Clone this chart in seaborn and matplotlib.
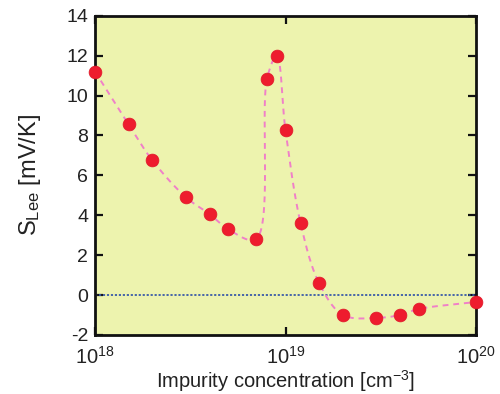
import numpy as np
import pandas as pd
import matplotlib
matplotlib.use("Agg")
import matplotlib.pyplot as plt
import seaborn as sns

# Data
concentration = [1e18, 1.5e18, 2e18, 3e18, 4e18, 5e18, 7e18, 8e18, 9e18, 1e19,
                 1.2e19, 1.5e19, 2e19, 3e19, 4e19, 5e19, 1e20]
s_lee = [11.2, 8.55, 6.75, 4.9, 4.05, 3.3, 2.8, 10.85, 12.0, 8.25,
         3.6, 0.6, -1.0, -1.15, -1.0, -0.7, -0.35]
x_ticks = [1e18, 1e19, 1e20]
x_tick_labels = [r'$\mathregular{10^{18}}$', r'$\mathregular{10^{19}}$', r'$\mathregular{10^{20}}$']
y_ticks = [-2, 0, 2, 4, 6, 8, 10, 12, 14]

sns.set_theme(style="ticks")
plt.rcParams['font.family'] = ['Liberation Sans', 'DejaVu Sans']
plt.rcParams['mathtext.fontset'] = 'custom'
plt.rcParams['mathtext.rm'] = 'Liberation Sans'
plt.rcParams['mathtext.it'] = 'Liberation Sans'

df = pd.DataFrame({"x": concentration, "y": s_lee})


def centripetal_cr(xs, ys, n=40, alpha=0.5):
    """Centripetal Catmull-Rom smoothing (rendering only) in screen-like units."""
    P = np.column_stack([np.asarray(xs, float) * 190.0, np.asarray(ys, float) * 20.0])
    P = np.vstack([2*P[0]-P[1], P, 2*P[-1]-P[-2]])
    out = []
    for i in range(1, len(P)-2):
        p0, p1, p2, p3 = P[i-1], P[i], P[i+1], P[i+2]
        t0 = 0.0
        t1 = t0 + np.linalg.norm(p1-p0)**alpha
        t2 = t1 + np.linalg.norm(p2-p1)**alpha
        t3 = t2 + np.linalg.norm(p3-p2)**alpha
        t = np.linspace(t1, t2, n, endpoint=False)[:, None]
        a1 = (t1-t)/(t1-t0)*p0 + (t-t0)/(t1-t0)*p1
        a2 = (t2-t)/(t2-t1)*p1 + (t-t1)/(t2-t1)*p2
        a3 = (t3-t)/(t3-t2)*p2 + (t-t2)/(t3-t2)*p3
        b1 = (t2-t)/(t2-t0)*a1 + (t-t0)/(t2-t0)*a2
        b2 = (t3-t)/(t3-t1)*a2 + (t-t1)/(t3-t1)*a3
        c = (t2-t)/(t2-t1)*b1 + (t-t1)/(t2-t1)*b2
        out.append(c)
    out.append(P[-2][None, :])
    out = np.vstack(out)
    return out[:, 0] / 190.0, out[:, 1] / 20.0


lx, ly = centripetal_cr(np.log10(concentration), s_lee)
curve = pd.DataFrame({"x": 10**lx, "y": ly})

fig, ax = plt.subplots(figsize=(5, 3.94), dpi=100)
fig.subplots_adjust(left=0.19, right=0.952, top=0.96, bottom=0.15)
ax.set_facecolor('#EDF3AE')

ax.axhline(0, color='#3A5BA8', lw=1.3, ls=(0, (1.2, 1.0)), zorder=1)
sns.lineplot(data=curve, x="x", y="y", ax=ax, color='#F080C8', lw=1.4,
             linestyle=(0, (3, 2.5)), zorder=2, sort=False)
sns.scatterplot(data=df, x="x", y="y", ax=ax, color='#EE1C2E', edgecolor='#E01828',
                s=85, linewidth=0.5, zorder=3, clip_on=False)

ax.set_xscale('log')
ax.set_xlim(1e18, 1e20)
ax.set_ylim(-2, 14)
ax.set_xticks(x_ticks)
ax.set_xticklabels(x_tick_labels)
ax.xaxis.set_minor_locator(matplotlib.ticker.NullLocator())
ax.set_yticks(y_ticks)
ax.set_yticklabels([str(v) for v in y_ticks])

ax.tick_params(axis='both', which='major', direction='in', length=6, width=1.6,
               top=True, right=True, colors='#111111', labelcolor='#222222')
ax.tick_params(axis='x', pad=8, labelsize=14.5)
ax.tick_params(axis='y', pad=5, labelsize=14)
for sp in ax.spines.values():
    sp.set_linewidth(2)
    sp.set_color('#111111')

ax.set_xlabel('Impurity concentration [cm$^{\\mathregular{-3}}$]', fontsize=14.5, color='#222222', labelpad=0)
ax.set_ylabel('S$_{\\mathregular{Lee}}$ [mV/K]', fontsize=17, color='#222222', labelpad=17)

fig.savefig('out.png', dpi=100)
